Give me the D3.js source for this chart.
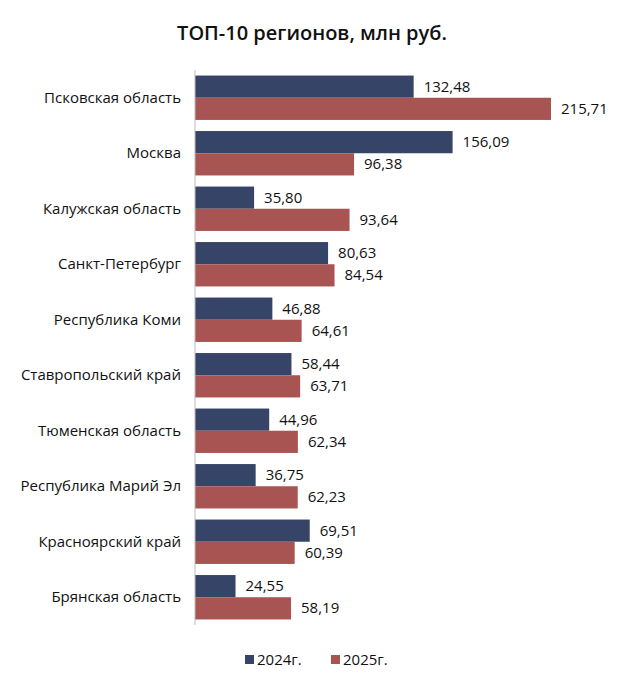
<!DOCTYPE html>
<html><head><meta charset="utf-8">
<script src="https://cdn.jsdelivr.net/npm/d3@7"></script>
<style>body{margin:0;background:#fff;font-family:"Open Sans","Noto Sans",sans-serif;}</style>
</head><body><svg id="c" width="624" height="684"></svg>
<script>
const categories=["Псковская область","Москва","Калужская область","Санкт-Петербург","Республика Коми","Ставропольский край","Тюменская область","Республика Марий Эл","Красноярский край","Брянская область"];
const values2024=[132.48,156.09,35.80,80.63,46.88,58.44,44.96,36.75,69.51,24.55];
const values2025=[215.71,96.38,93.64,84.54,64.61,63.71,62.34,62.23,60.39,58.19];
const seriesNames=["2024г.","2025г."];
const colors=["#364468","#a85452"];
const svg=d3.select("#c");
const x0=195;
const x=d3.scaleLinear().domain([0,215.71]).range([x0,551]);
const y=d3.scaleBand().domain(categories).range([70,625]).paddingInner(0.2).paddingOuter(0.1);
const sub=d3.scaleBand().domain([0,1]).range([0,y.bandwidth()]);
svg.append("text").attr("x",312).attr("y",40).attr("text-anchor","middle").attr("font-size",20).attr("font-weight",600).attr("fill","#111").text("ТОП-10 регионов, млн руб.");
const fmt=v=>v.toFixed(2).replace(".",",");
[values2024,values2025].forEach((vals,s)=>{
  const g=svg.append("g");
  g.selectAll("rect").data(vals).join("rect")
   .attr("x",x(0)).attr("y",(d,i)=>y(categories[i])+sub(s)).attr("width",d=>x(d)-x(0)).attr("height",sub.bandwidth()).attr("fill",colors[s]);
  g.selectAll("text").data(vals).join("text")
   .attr("x",d=>x(d)+10).attr("y",(d,i)=>y(categories[i])+sub(s)+sub.bandwidth()/2+5).attr("font-size",15).attr("fill","#111").text(fmt);
});
svg.append("g").attr("transform",`translate(${x0},0)`).call(d3.axisLeft(y).tickSize(0).tickPadding(14))
 .call(g=>{g.select(".domain").attr("stroke","#bbb").attr("d","M0,70V625");g.selectAll("text").attr("font-size",15).attr("fill","#111").attr("font-family","Open Sans, sans-serif");});
const lg=svg.append("g").attr("transform","translate(245,660)");
seriesNames.forEach((n,i)=>{
  const gx=i*86;
  lg.append("rect").attr("x",gx).attr("y",-5).attr("width",9).attr("height",9).attr("fill",colors[i]);
  lg.append("text").attr("x",gx+12).attr("y",5).attr("font-size",15).attr("fill","#111").text(n);
});
</script></body></html>
